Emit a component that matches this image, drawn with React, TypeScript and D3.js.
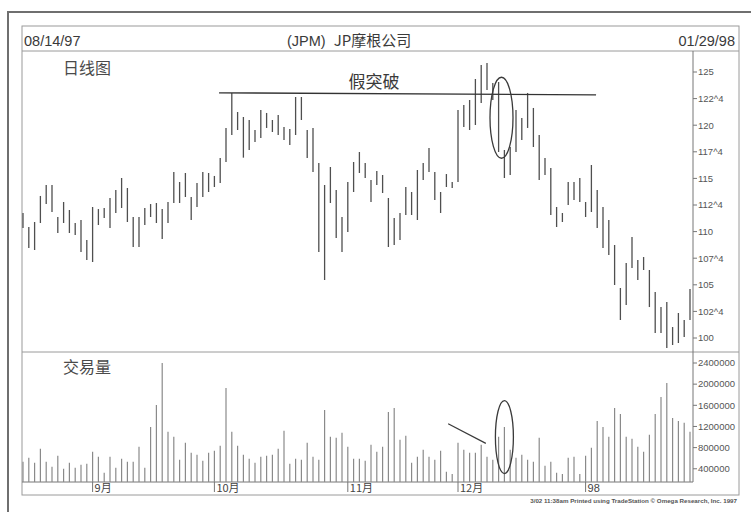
import React, { useEffect, useRef } from "react";
import * as d3 from "d3";

// daily bars 08/14/97 - 01/29/98 (trading day index 0..115)
const highs = [
  111.75, 110.43, 110.9, 113.35, 114.38, 114.38, 111.37, 112.78, 112.03, 110.81,
  111.09, 109.21, 112.31, 112.12, 112.22, 113.16, 113.91, 115.04, 114.1, 111.37,
  111.37, 112.22, 112.59, 112.69, 112.12, 112.78, 115.6, 114.66, 115.51, 113.25,
  114.57, 115.6, 115.51, 115.23, 116.92, 119.74, 123.03, 121.24, 120.77, 120.49,
  119.55, 121.43, 121.15, 120.49, 120.96, 119.83, 119.64, 122.65, 122.65, 119.55,
  119.74, 116.45, 114.38, 116.07, 113.91, 111.37, 114.66, 116.54, 117.48, 116.45,
  114.85, 115.7, 115.32, 113.16, 111.28, 111.75, 114.19, 113.72, 115.79, 116.45,
  117.86, 115.6, 113.72, 115.41, 114.66, 121.43, 121.9, 122.37, 124.34, 125.66,
  125.85, 123.97, 124.06, 117.67, 117.95, 121.43, 120.68, 123.03, 121.62, 119.08,
  116.92, 115.98, 112.31, 111.75, 114.66, 114.66, 115.04, 112.78, 116.26, 113.91,
  112.31, 111.09, 108.74, 104.7, 107.05, 109.49, 107.33, 107.61, 106.39, 104.32,
  102.91, 103.38, 101.03, 102.35, 101.69, 104.6,
];
const lows = [
  110.34, 108.46, 108.27, 110.81, 112.59, 111.84, 109.87, 110.81, 109.87, 109.68,
  108.08, 107.33, 107.14, 110.62, 111.28, 110.34, 111.75, 112.22, 110.9, 108.55,
  108.55, 110.62, 111.37, 110.81, 109.3, 110.81, 112.69, 112.69, 113.25, 111.09,
  112.31, 113.25, 113.72, 114.19, 114.57, 116.54, 119.08, 119.55, 116.95, 117.67,
  118.42, 118.8, 119.74, 119.36, 119.08, 118.61, 118.14, 119.08, 120.49, 116.92,
  115.6, 108.08, 105.45, 112.69, 109.4, 108.08, 109.96, 113.72, 115.51, 115.04,
  112.78, 114.38, 113.63, 108.55, 108.74, 109.21, 111.56, 111.56, 111.09, 114.85,
  115.6, 112.97, 111.75, 114.19, 114.1, 114.66, 119.83, 119.55, 120.02, 122.09,
  123.31, 122.37, 117.48, 115.04, 115.32, 117.48, 118.61, 119.74, 117.95, 114.85,
  115.32, 111.56, 110.43, 110.9, 112.5, 112.97, 112.78, 111.37, 111.84, 110.34,
  108.46, 107.8, 104.98, 101.69, 103.1, 106.58, 105.45, 106.39, 102.91, 100.47,
  100.47, 99.06, 99.34, 99.53, 100.09, 101.7,
];
// volume, thousands of shares
const volumes = [
  532, 607, 513, 777, 532, 438, 645, 400, 513, 419,
  475, 494, 721, 626, 325, 626, 419, 589, 532, 532,
  815, 419, 1192, 1608, 2400, 1098, 1004, 570, 891, 702,
  664, 551, 702, 740, 834, 1928, 1098, 834, 664, 589,
  513, 626, 645, 664, 777, 1117, 494, 589, 570, 891,
  626, 570, 1513, 1004, 985, 1079, 815, 589, 589, 551,
  853, 721, 815, 1475, 1551, 947, 1023, 513, 626, 758,
  626, 570, 740, 343, 300, 891, 758, 702, 702, 853,
  626, 570, 1004, 1192, 758, 607, 664, 570, 532, 985,
  457, 532, 325, 300, 607, 626, 300, 645, 796, 1305,
  1192, 1004, 1551, 1437, 1004, 966, 815, 721, 1042, 1437,
  1758, 2023, 1362, 1305, 1268, 1100,
];
const priceTicks = [125, 122.5, 120, 117.5, 115, 112.5, 110, 107.5, 105, 102.5, 100];
const volumeTicks = [2400000, 2000000, 1600000, 1200000, 800000, 400000];
const monthLabels = ["9月", "10月", "11月", "12月", "98"];
const monthIndex = [12, 33, 56, 75, 97];
const resistance = 122.95;
const resistanceFrom = 33.8;
const resistanceTo = 98.8;

// 122.5 -> "122^4" (eighths)
function fmtPrice(p: number) {
  const whole = Math.floor(p);
  const eighths = Math.round((p - whole) * 8);
  return eighths ? `${whole}^${eighths}` : `${whole}`;
}

function App() {
  const svgRef: any = useRef(null);

  useEffect(() => {
    draw();
  }, []);

  const draw = () => {
    const svg = d3.select(svgRef.current);
    svg.selectAll("*").remove();

    const sans = "'Liberation Sans', Arial, sans-serif";
    const cjk = "'Noto Sans CJK SC', sans-serif";
    const left = 22;
    const right = 739;
    const axisX = 693;

    const x = d3.scaleLinear().domain([0, highs.length - 1]).range([23, 690]);
    const y = d3.scaleLinear().domain([100, 125]).range([338, 72]);
    const yv = d3.scaleLinear().domain([150000, 2400000]).range([482, 363]);

    svg.append("rect").attr("width", 751).attr("height", 512).attr("fill", "#fff");

    // outer frame
    svg
      .append("path")
      .attr("d", "M8,512V12H751")
      .attr("fill", "none")
      .attr("stroke", "#6f6f6f")
      .attr("stroke-width", 2);

    // inner chart box
    const frame = svg.append("g").attr("stroke", "#9a9a9a").attr("fill", "none");
    frame.append("rect").attr("x", left).attr("y", 26).attr("width", right - left).attr("height", 469);
    [51, 352].forEach((yy) => {
      frame.append("line").attr("x1", left).attr("x2", right).attr("y1", yy).attr("y2", yy);
    });
    frame.append("line").attr("x1", left).attr("x2", axisX).attr("y1", 482).attr("y2", 482).attr("stroke", "#777");
    frame.append("line").attr("x1", axisX).attr("x2", axisX).attr("y1", 51).attr("y2", 482).attr("stroke", "#777");

    // header
    svg
      .append("text")
      .attr("x", 24)
      .attr("y", 46)
      .attr("font-family", sans)
      .attr("font-size", 14.5)
      .attr("fill", "#3a3a3a")
      .text("08/14/97");
    const title = svg
      .append("text")
      .attr("x", 287)
      .attr("y", 46)
      .attr("fill", "#3a3a3a");
    title.append("tspan").attr("font-family", sans).attr("font-size", 14.5).text("(JPM)");
    title.append("tspan").attr("dx", 8).attr("font-family", cjk).attr("font-size", 15).text("JP摩根公司");
    svg
      .append("text")
      .attr("x", 735)
      .attr("y", 46)
      .attr("text-anchor", "end")
      .attr("font-family", sans)
      .attr("font-size", 14.5)
      .attr("fill", "#3a3a3a")
      .text("01/29/98");

    // panel titles
    svg
      .append("text")
      .attr("x", 63)
      .attr("y", 74)
      .attr("font-family", cjk)
      .attr("font-size", 16)
      .attr("fill", "#4a4a4a")
      .text("日线图");
    svg
      .append("text")
      .attr("x", 63)
      .attr("y", 373)
      .attr("font-family", cjk)
      .attr("font-size", 16)
      .attr("fill", "#4a4a4a")
      .text("交易量");

    // price axis
    const pa = svg.append("g");
    priceTicks.forEach((p) => {
      pa.append("line")
        .attr("x1", axisX)
        .attr("x2", axisX + 4)
        .attr("y1", y(p))
        .attr("y2", y(p))
        .attr("stroke", "#777");
      pa.append("text")
        .attr("x", axisX + 5)
        .attr("y", y(p))
        .attr("dy", "0.35em")
        .attr("font-family", sans)
        .attr("font-size", 9.5)
        .attr("fill", "#555")
        .text(fmtPrice(p));
    });

    // volume axis
    const va = svg.append("g");
    volumeTicks.forEach((v) => {
      va.append("line")
        .attr("x1", axisX)
        .attr("x2", axisX + 4)
        .attr("y1", yv(v))
        .attr("y2", yv(v))
        .attr("stroke", "#777");
      va.append("text")
        .attr("x", axisX + 5)
        .attr("y", yv(v))
        .attr("dy", "0.35em")
        .attr("font-family", sans)
        .attr("font-size", 9.5)
        .attr("fill", "#555")
        .text(d3.format("d")(v));
    });

    // month axis
    monthIndex.forEach((m, i) => {
      svg
        .append("line")
        .attr("x1", x(m))
        .attr("x2", x(m))
        .attr("y1", 482)
        .attr("y2", 492)
        .attr("stroke", "#777");
      svg
        .append("text")
        .attr("x", x(m) + 2)
        .attr("y", 492)
        .attr("font-family", i === 4 ? sans : cjk)
        .attr("font-size", 11)
        .attr("fill", "#444")
        .text(monthLabels[i]);
    });

    svg
      .append("text")
      .attr("x", 737)
      .attr("y", 503)
      .attr("text-anchor", "end")
      .attr("font-family", sans)
      .attr("font-size", 6.2)
      .attr("font-weight", "bold")
      .attr("fill", "#555")
      .text("3/02 11:38am Printed using TradeStation © Omega Research, Inc. 1997");

    // price bars (high-low)
    svg
      .append("g")
      .selectAll("line")
      .data(highs)
      .join("line")
      .attr("x1", (d, i) => x(i))
      .attr("x2", (d, i) => x(i))
      .attr("y1", (d) => y(d))
      .attr("y2", (d, i) => y(lows[i]))
      .attr("stroke", "#4f4f4f")
      .attr("stroke-width", 1.3);

    // volume bars
    svg
      .append("g")
      .selectAll("line")
      .data(volumes)
      .join("line")
      .attr("x1", (d, i) => x(i))
      .attr("x2", (d, i) => x(i))
      .attr("y1", 482)
      .attr("y2", (d) => yv(d * 1000))
      .attr("stroke", "#8a8a8a")
      .attr("stroke-width", 1.2);

    // annotations
    svg
      .append("line")
      .attr("x1", x(resistanceFrom))
      .attr("x2", x(resistanceTo))
      .attr("y1", y(resistance) - 1)
      .attr("y2", y(resistance) + 1)
      .attr("stroke", "#333")
      .attr("stroke-width", 1.3);
    svg
      .append("text")
      .attr("x", 374)
      .attr("y", 88)
      .attr("text-anchor", "middle")
      .attr("font-family", cjk)
      .attr("font-size", 17)
      .attr("fill", "#3a3a3a")
      .text("假突破");
    svg
      .append("ellipse")
      .attr("cx", x(82.5))
      .attr("cy", y(120.7))
      .attr("rx", 11.5)
      .attr("ry", 40.5)
      .attr("fill", "none")
      .attr("stroke", "#3a3a3a")
      .attr("stroke-width", 1.3);
    svg
      .append("ellipse")
      .attr("cx", x(83))
      .attr("cy", yv(1000000))
      .attr("rx", 9)
      .attr("ry", 36.5)
      .attr("fill", "none")
      .attr("stroke", "#3a3a3a")
      .attr("stroke-width", 1.3);
    svg
      .append("line")
      .attr("x1", x(73.3))
      .attr("x2", x(79.8))
      .attr("y1", yv(1250000))
      .attr("y2", yv(880000))
      .attr("stroke", "#3a3a3a")
      .attr("stroke-width", 1.2);
  };

  return (
    <svg
      ref={svgRef}
      width={751}
      height={512}
      style={{ position: "absolute", left: 0, top: 0, display: "block" }}
    />
  );
}

export default App;
